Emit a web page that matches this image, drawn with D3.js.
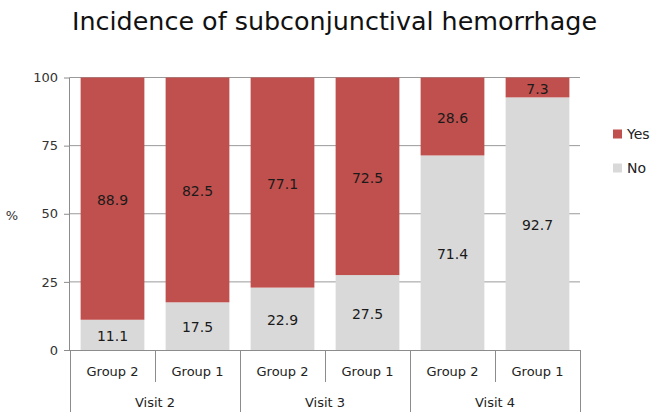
<!DOCTYPE html>
<html><head><meta charset="utf-8">
<script src="https://cdn.jsdelivr.net/npm/d3@7"></script>
<style>body{margin:0;background:#fff;} svg{display:block;}</style>
</head><body>
<svg id="c" width="661" height="417"></svg>
<script>
const title = "Incidence of subconjunctival hemorrhage";
const visits = ["Visit 2", "Visit 3", "Visit 4"];
const groups = ["Group 2", "Group 1"];
const categories = ["V2G2","V2G1","V3G2","V3G1","V4G2","V4G1"];
const noValues = [11.1, 17.5, 22.9, 27.5, 71.4, 92.7];
const yesValues = [88.9, 82.5, 77.1, 72.5, 28.6, 7.3];
const yTicks = [0, 25, 50, 75, 100];
const seriesNames = ["Yes", "No"];
const colors = {Yes: "#C0504D", No: "#D9D9D9"};

const svg = d3.select("#c");
const font = "Tahoma, 'DejaVu Sans', Verdana, sans-serif";
const M = {left: 70, right: 580, top: 77.5, bottom: 350};

const x = d3.scaleBand().domain(categories).range([M.left, M.right]).paddingInner(0.25).paddingOuter(0.125);
const y = d3.scaleLinear().domain([0, 100]).range([M.bottom, M.top]);

// title
svg.append("text").attr("x", 334.5).attr("y", 30).attr("text-anchor", "middle")
  .attr("font-family", font).attr("font-size", 24).attr("fill", "#111")
  .attr("textLength", 525).attr("lengthAdjust", "spacingAndGlyphs").text(title);

// gridlines
svg.append("g").selectAll("line").data(yTicks.filter(d => d > 0)).join("line")
  .attr("x1", M.left).attr("x2", M.right).attr("y1", d => y(d)).attr("y2", d => y(d))
  .attr("stroke", "#9a9a9a").attr("stroke-width", 1);

const rows = categories.map((c, i) => ({c, No: noValues[i], Yes: yesValues[i]}));
const stack = d3.stack().keys(["No", "Yes"])(rows);

const g = svg.append("g");
stack.forEach(s => {
  g.append("g").selectAll("rect").data(s).join("rect")
    .attr("x", d => x(d.data.c)).attr("width", x.bandwidth())
    .attr("y", d => y(d[1])).attr("height", d => y(d[0]) - y(d[1]))
    .attr("fill", colors[s.key]);
  g.append("g").selectAll("text").data(s).join("text")
    .attr("x", d => x(d.data.c) + x.bandwidth() / 2)
    .attr("y", d => (y(d[0]) + y(d[1])) / 2)
    .attr("dy", "0.45em").attr("text-anchor", "middle")
    .attr("font-family", font).attr("font-size", 14).attr("fill", "#1a1a1a")
    .text(d => d.data[s.key].toFixed(1));
});

// y axis
const yAxis = svg.append("g").attr("transform", `translate(${M.left},0)`)
  .call(d3.axisLeft(y).tickValues(yTicks).tickSize(6).tickPadding(6));
yAxis.select(".domain").attr("stroke", "#8c8c8c").attr("d", `M-0.5,${M.top}V${M.bottom}`);
yAxis.selectAll(".tick line").attr("stroke", "#8c8c8c");
yAxis.selectAll("text").attr("font-family", font).attr("font-size", 13).attr("fill", "#333");

svg.append("text").attr("x", 12).attr("y", 215).attr("dy", "0.35em").attr("text-anchor", "middle")
  .attr("font-family", font).attr("font-size", 13).attr("fill", "#333").text("%");

// x axis (two-level)
const ax = svg.append("g").attr("stroke", "#8c8c8c").attr("stroke-width", 1);
ax.append("line").attr("x1", 64).attr("x2", M.right).attr("y1", M.bottom + 0.5).attr("y2", M.bottom + 0.5);
const step = x.step();
const edges = d3.range(categories.length + 1).map(i => M.left + i * step);
edges.forEach((e, i) => {
  const major = i % 2 === 0;
  ax.append("line").attr("x1", Math.round(e) + 0.5).attr("x2", Math.round(e) + 0.5)
    .attr("y1", M.bottom).attr("y2", major ? 412 : 382);
});
categories.forEach((c, i) => {
  svg.append("text").attr("x", x(c) + x.bandwidth() / 2).attr("y", 371).attr("dy", "0.35em")
    .attr("text-anchor", "middle").attr("font-family", font).attr("font-size", 13).attr("fill", "#222")
    .text(groups[i % 2]);
});
visits.forEach((v, i) => {
  svg.append("text").attr("x", (edges[i * 2] + edges[i * 2 + 2]) / 2).attr("y", 402).attr("dy", "0.35em")
    .attr("text-anchor", "middle").attr("font-family", font).attr("font-size", 13).attr("fill", "#222")
    .text(v);
});

// legend
seriesNames.forEach((n, i) => {
  const ly = 134 + i * 34;
  svg.append("rect").attr("x", 613).attr("y", ly - 4.5).attr("width", 9).attr("height", 9).attr("fill", colors[n]);
  svg.append("text").attr("x", 627).attr("y", ly).attr("dy", "0.35em")
    .attr("font-family", font).attr("font-size", 14).attr("fill", "#222").text(n);
});
</script>
</body></html>
